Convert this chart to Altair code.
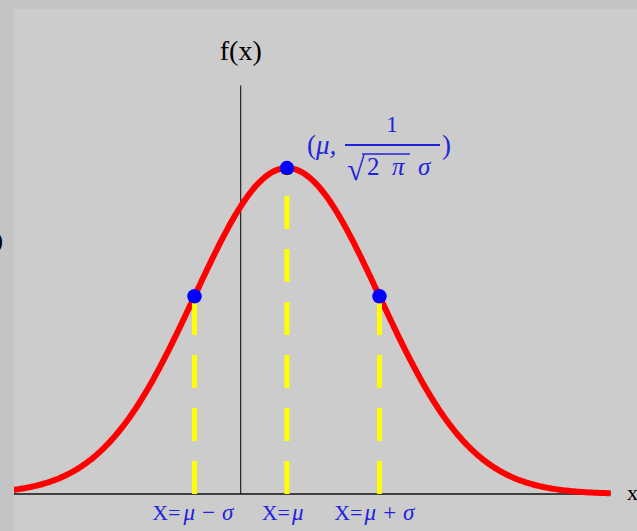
import altair as alt
import pandas as pd

# Normal distribution parameters
MU = 0.5
SIGMA = 1.0

# Sampled range of the density curve
CURVE_START = -2.5
CURVE_STOP = 4.0
CURVE_STEP = 0.02

# Marked points: mu - sigma, mu, mu + sigma
mark_x = [MU - SIGMA, MU, MU + SIGMA]
# Each label is an upright prefix and an italic Greek part
label_prefix = ["X=", "X=", "X="]
label_greek = ["μ − σ", "μ", "μ + σ"]
# pixel offsets of the two parts from the point (prefix right edge, greek left edge)
label_dx = [(-14, -11), (3, 5), (-17, -15)]

# Axis extents
X_AXIS = [CURVE_START, CURVE_STOP]
Y_AXIS_TOP = 0.50
LABEL_Y = -0.0318

X_DOMAIN = [-2.451, 4.284]
Y_DOMAIN = [-0.0453, 0.5936]

SERIF = "Liberation Serif"
BLUE_TEXT = "#2222dd"

DENSITY = ("exp(-0.5 * pow((datum.x - {m}) / {s}, 2)) / (sqrt(2 * PI) * {s})"
           .format(m=MU, s=SIGMA))


def xs(field="x", **kw):
    return alt.X(field, type="quantitative",
                 scale=alt.Scale(domain=X_DOMAIN, nice=False, zero=False), axis=None, **kw)


def ys(field="y", **kw):
    return alt.Y(field, type="quantitative",
                 scale=alt.Scale(domain=Y_DOMAIN, nice=False, zero=False), axis=None, **kw)


points = pd.DataFrame({"x": mark_x})

# Horizontal x axis and vertical f(x) axis
x_axis = alt.Chart(pd.DataFrame({"x": [X_AXIS[0]], "x2": [X_AXIS[1]], "y": [0.0]})).mark_rule(
    color="#404040", strokeWidth=2, clip=True
).encode(x=xs(), x2="x2", y=ys())

y_axis = alt.Chart(pd.DataFrame({"x": [0.0], "y": [0.0], "y2": [Y_AXIS_TOP]})).mark_rule(
    color="#000000", strokeWidth=1
).encode(x=xs(), y=ys(), y2="y2")

# Density curve
curve = alt.Chart(alt.sequence(CURVE_START, CURVE_STOP + CURVE_STEP / 2, CURVE_STEP, as_="x")).transform_calculate(
    y=DENSITY
).mark_line(color="#ff0000", strokeWidth=6, clip=True).encode(x=xs(), y=ys())

# Dashed drop lines from the marked points to the x axis
drops = alt.Chart(points).transform_calculate(y=DENSITY, base="0").mark_rule(
    color="#ffff00", strokeWidth=5, strokeDash=[33, 20]
).encode(x=xs(), y=ys("base:Q"), y2="y:Q")

dots = alt.Chart(points).transform_calculate(y=DENSITY).mark_circle(
    color="#0000ff", size=210, opacity=1
).encode(x=xs(), y=ys())

# Labels under the axis
bottom_labels = []
for xv, pre, greek, (dx_pre, dx_greek) in zip(mark_x, label_prefix, label_greek, label_dx):
    base = alt.Chart(pd.DataFrame({"x": [xv], "y": [LABEL_Y]}))
    bottom_labels.append(base.mark_text(
        font=SERIF, fontSize=22, color=BLUE_TEXT, align="right", baseline="alphabetic",
        dx=dx_pre, text=pre).encode(x=xs(), y=ys()))
    bottom_labels.append(base.mark_text(
        font=SERIF, fontSize=23, color=BLUE_TEXT, align="left", baseline="alphabetic",
        fontStyle="italic", dx=dx_greek, text=greek).encode(x=xs(), y=ys()))


def plain_text(xv, yv, text, size, align):
    return alt.Chart(pd.DataFrame({"x": [xv], "y": [yv]})).mark_text(
        font=SERIF, fontSize=size, color="#000000", align=align, baseline="alphabetic", text=text
    ).encode(x=xs(), y=ys())


# Axis titles
f_title = plain_text(0.0, 0.531, "f(x)", 28, "center")
x_title = plain_text(4.176, -0.0073, "x", 22, "left")
edge_glyph = plain_text(-2.57, 0.301, ")", 24, "right")

# Peak annotation (mu, 1 / (sqrt(2 pi) sigma))
peak = alt.Chart(pd.DataFrame({"x": [MU]})).transform_calculate(y=DENSITY)


def peak_text(text, dx, dy, size, italic=False, align="left"):
    kw = {"fontStyle": "italic"} if italic else {}
    return peak.mark_text(font=SERIF, fontSize=size, color=BLUE_TEXT, align=align,
                          baseline="alphabetic", dx=dx, dy=dy, text=text, **kw).encode(x=xs(), y=ys())


ann = [
    peak_text("(", 20, -14, 27),
    peak_text("μ,", 29, -14, 27, italic=True),
    peak_text(")", 155, -14, 27),
    peak_text("1", 105, -36, 23, align="center"),
    peak_text("√", 60, 12, 32),
    peak_text("2", 80, 7, 25),
    peak_text("π", 105, 7, 25, italic=True),
    peak_text("σ", 131, 7, 25, italic=True),
    # fraction bar
    peak.mark_rule(color=BLUE_TEXT, strokeWidth=2, xOffset=58, x2Offset=153,
                   yOffset=-23, y2Offset=-23).encode(x=xs(), x2="x", y=ys(), y2="y"),
    # radical overline
    peak.mark_rule(color=BLUE_TEXT, strokeWidth=1.5, xOffset=75, x2Offset=123,
                   yOffset=-14, y2Offset=-14).encode(x=xs(), x2="x", y=ys(), y2="y"),
]

chart = alt.layer(
    x_axis, y_axis, curve, drops, dots, *bottom_labels,
    f_title, x_title, edge_glyph, *ann,
).properties(
    width=623, height=522,
    autosize=alt.AutoSizeParams(type="none"),
    padding={"left": 14, "top": 9, "right": 0, "bottom": 0},
    background="#c4c4c4",
).configure_view(stroke=None, fill="#cccccc")

chart.save("out.html", embed_options={"renderer": "svg", "actions": False})
